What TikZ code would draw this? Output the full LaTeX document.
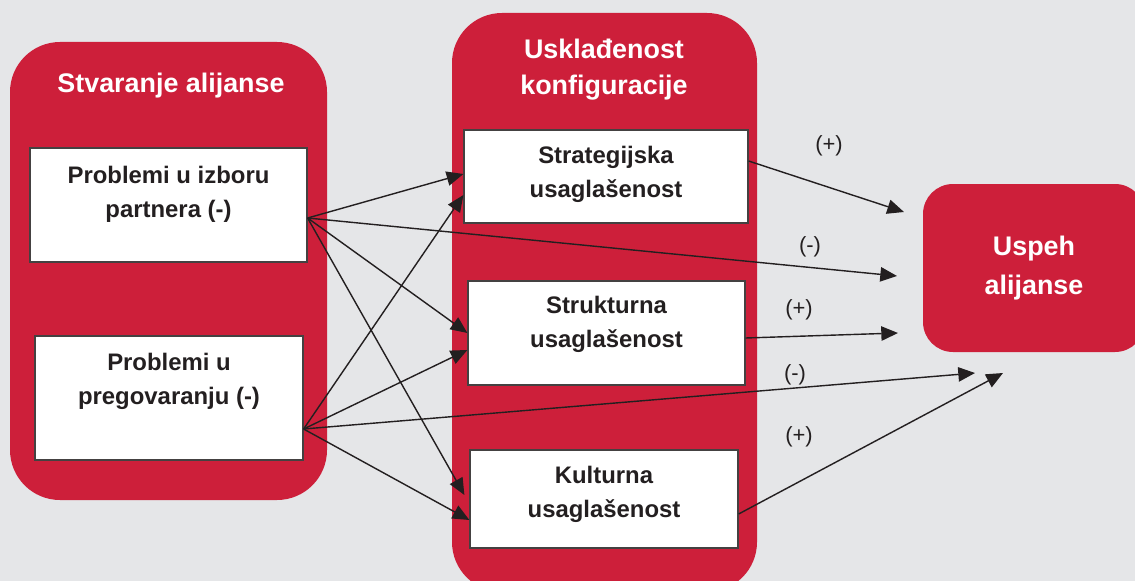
\documentclass[tikz,border=0pt]{standalone}
\usepackage{fontspec}
\setmainfont{Liberation Sans}
\usepackage{xcolor}
\usetikzlibrary{arrows.meta}
\definecolor{crimson}{HTML}{CD1F3A}
\definecolor{paper}{HTML}{E5E6E8}
\definecolor{ink}{HTML}{231F20}
\newlength{\pxl}
\setlength{\pxl}{0.02cm}

\tikzset{
    panel/.style={fill=crimson, rounded corners=50\pxl},
    title/.style={text=white, font=\bfseries\fontsize{15.3}{20.4}\selectfont, align=center},
    whitebox/.style={fill=white, draw=ink!85, line width=0.7pt, text=ink, align=center,
        font=\bfseries\fontsize{13.6}{19.3}\selectfont},
    sign/.style={text=ink, font=\fontsize{12.5}{15}\selectfont},
    link/.style={draw=ink, line width=0.8pt, -{Triangle[length=9.5pt, width=8.2pt]}}
}

\begin{document}
\begin{tikzpicture}[x=0.02cm, y=-0.02cm]
    \clip (0,0) rectangle (1135,581);
    \fill[paper] (0,0) rectangle (1135,581);

    % the two columns
    \fill[panel] (10,42) rectangle (327,500);
    \fill[panel] (452,13) rectangle (757,592);
    \node[title] (stvaranje) at (171,86) {Stvaranje alijanse};
    \node[title] (uskladjenost) at (604,70) {Usklađenost\\konfiguracije};

    % result
    \node[panel, title, rounded corners=30\pxl, minimum width=222\pxl, minimum height=168\pxl,
        font=\bfseries\fontsize{15.3}{22.5}\selectfont]
        (uspeh) at (1034,268) {Uspeh\\alijanse};

    % boxes
    \node[whitebox, minimum width=277\pxl, minimum height=114\pxl, text depth=14.5pt]
        (izbor) at (168.5,205) {Problemi u izboru\\partnera (-)};
    \node[whitebox, minimum width=268\pxl, minimum height=124\pxl, text depth=21.3pt]
        (pregovori) at (169,398) {Problemi u\\pregovaranju (-)};
    \node[whitebox, minimum width=284\pxl, minimum height=93\pxl, text depth=4.8pt]
        (strateska) at (606,176.5) {Strategijska\\usaglašenost};
    \node[whitebox, minimum width=277\pxl, minimum height=104\pxl, text depth=12.2pt]
        (strukturna) at (606.5,333) {Strukturna\\usaglašenost};
    \node[whitebox, minimum width=268\pxl, minimum height=98\pxl, text depth=7.7pt]
        (kulturna) at (604,499) {Kulturna\\usaglašenost};

    % arrow ends in front of the result
    \coordinate (ulaz1) at (904,212);
    \coordinate (ulaz2) at (897,276);
    \coordinate (ulaz3) at (898,333);
    \coordinate (ulaz4) at (975,373);
    \coordinate (ulaz5) at (1003,373);

    \draw[link] ([yshift=-13\pxl]izbor.east) -- ([yshift=2.5\pxl]strateska.west);
    \draw[link] ([yshift=-13\pxl]izbor.east) -- (ulaz2);
    \draw[link] ([yshift=-13\pxl]izbor.east) -- (strukturna.west);
    \draw[link] ([yshift=-13\pxl]izbor.east) -- ([xshift=-5\pxl, yshift=4\pxl]kulturna.west);
    \draw[link] ([yshift=-31\pxl]pregovori.east) -- ([yshift=-18.5\pxl]strateska.west);
    \draw[link] ([yshift=-31\pxl]pregovori.east) -- ([yshift=-17\pxl]strukturna.west);
    \draw[link] ([yshift=-31\pxl]pregovori.east) -- (ulaz4);
    \draw[link] ([yshift=-31\pxl]pregovori.east) -- ([yshift=-21\pxl]kulturna.west);
    \draw[link] ([yshift=15.5\pxl]strateska.east) -- (ulaz1);
    \draw[link] ([yshift=-5\pxl]strukturna.east) -- (ulaz3);
    \draw[link] ([yshift=-15\pxl]kulturna.east) -- (ulaz5);

    % signs
    \node[sign] (plus1) at (829,146) {(+)};
    \node[sign] (minus1) at (810,247) {(-)};
    \node[sign] (plus2) at (799,310) {(+)};
    \node[sign] (minus2) at (795,375) {(-)};
    \node[sign] (plus3) at (799,437) {(+)};
\end{tikzpicture}
\end{document}
